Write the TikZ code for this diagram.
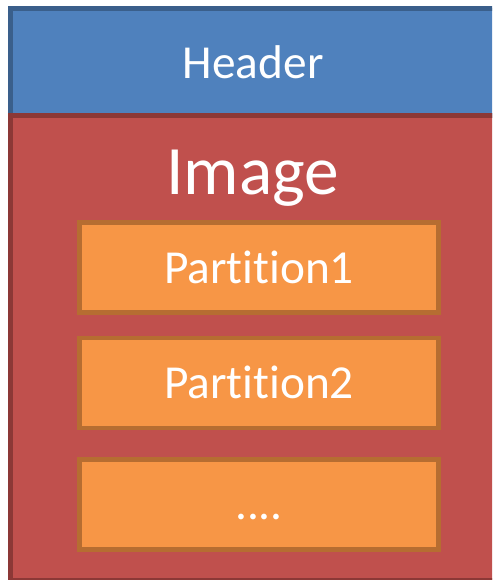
\documentclass[tikz,border=0pt]{standalone}
\usepackage{fontspec}
\setmainfont{Carlito}[Ligatures={NoCommon}]

\definecolor{hdrblue}{HTML}{4F81BD}
\definecolor{hdrblueline}{HTML}{3A5F8B}
\definecolor{imgred}{HTML}{C0504D}
\definecolor{imgredline}{HTML}{8C3836}
\definecolor{partorange}{HTML}{F79646}
\definecolor{partorangeline}{HTML}{B66D31}

\begin{document}
\begin{tikzpicture}[x=0.75pt,y=-0.75pt]
        \tikzstyle{every node}=[text=white, inner sep=0pt]
        \tikzstyle{block}=[rectangle, line width=3.5pt, minimum width=364.1pt]
        \tikzstyle{part}=[rectangle, line width=3.4pt, fill=partorange, draw=partorangeline,
                minimum width=269.25pt, minimum height=67.5pt,
                text height=23.25pt, text depth=0pt, font=\fontsize{35.5}{40}\selectfont]
        \useasboundingbox (0,0) rectangle (492,580);
        \clip (0,0) rectangle (492,580);
        \node[block, fill=hdrblue, draw=hdrblueline, minimum height=80.25pt,
                font=\fontsize{35.5}{40}\selectfont] (header) at (253.25,62) {Header};
        \node[block, fill=imgred, draw=imgredline, minimum height=348.4pt] (image) at (253.25,347.75) {};
        \node[anchor=base, font=\fontsize{52}{60}\selectfont] (imagelabel) at (252.5,195) {Image};
        \node[part] (part1) at (259,267.5) {Partition1};
        \node[part] (part2) at (259,383) {Partition2};
        \node[part] (part3) at (259,504.25) {....};
\end{tikzpicture}
\end{document}
